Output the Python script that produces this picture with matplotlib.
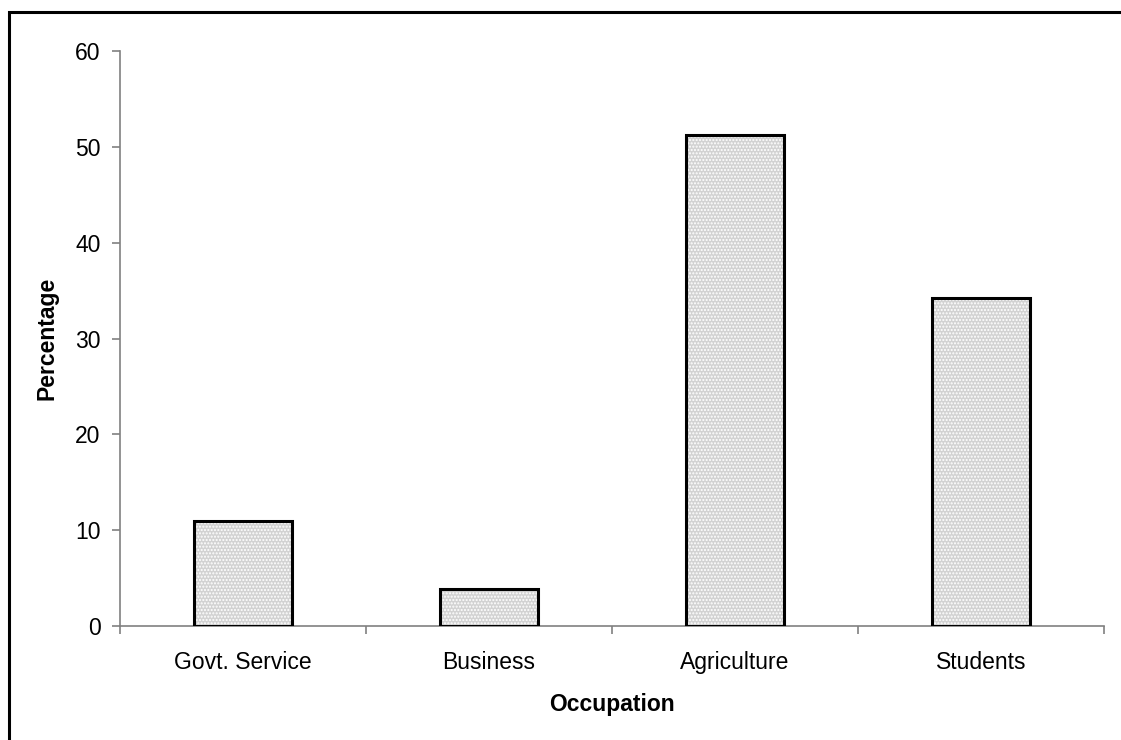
import matplotlib.pyplot as plt
from matplotlib.patches import Rectangle

plt.rcParams['font.family'] = ['Liberation Sans', 'DejaVu Sans']
plt.rcParams['hatch.linewidth'] = 1.0

occupations = ['Govt. Service', 'Business', 'Agriculture', 'Students']
percentages = [11.0, 3.9, 51.2, 34.2]

fig = plt.figure(figsize=(11.21, 7.40), dpi=100)
ax = fig.add_axes([0.107, 0.154, 0.878, 0.777])

x = range(len(occupations))
# stippled fill first, then the black outline on top
ax.bar(x, percentages, width=0.4, color='#d2d2d2', edgecolor='white',
       hatch='.....', linewidth=0, zorder=2)
ax.bar(x, percentages, width=0.4, fill=False, edgecolor='black',
       linewidth=2.2, zorder=3)

ax.set_xlim(-0.5, len(occupations) - 0.5)
ax.set_ylim(0, 60)
ax.set_yticks(range(0, 61, 10))
ax.set_xticks(x)
ax.set_xticklabels(occupations, fontsize=16.5)
ax.tick_params(axis='x', length=0, pad=18)
ax.set_xticks([i - 0.5 for i in range(len(occupations) + 1)], minor=True)
ax.tick_params(axis='x', which='minor', length=6, color='#808080', width=1.2)
ax.tick_params(axis='y', labelsize=16.5, length=6, color='#808080', width=1.2, pad=8)

for side in ['top', 'right']:
    ax.spines[side].set_visible(False)
for side in ['left', 'bottom']:
    ax.spines[side].set_color('#808080')
    ax.spines[side].set_linewidth(1.2)

ax.set_xlabel('Occupation', fontsize=16.5, fontweight='bold', labelpad=14)
ax.set_ylabel('Percentage', fontsize=16.5, fontweight='bold', labelpad=12)

# outer chart frame (runs off the right and bottom edges)
fig.patches.append(Rectangle((9 / 1121, -0.1), 1.2, 1.1 - 12 / 740,
                             transform=fig.transFigure, fill=False,
                             edgecolor='black', linewidth=2.2))

fig.savefig('out.png', dpi=100)
